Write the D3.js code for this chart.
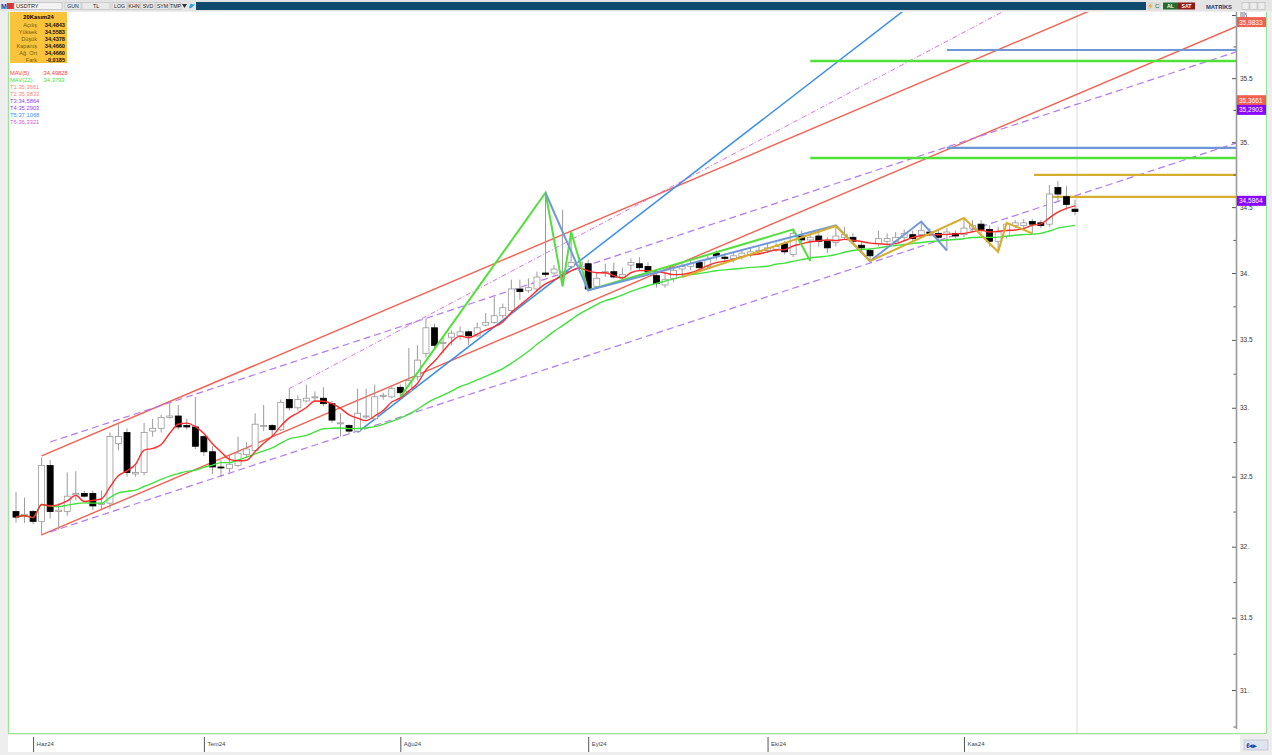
<!DOCTYPE html>
<html lang="tr">
<head>
<meta charset="UTF-8">
<title>USDTRY Günlük</title>
<style>
  body { margin: 0; background: #f0f0f0; font-family: "Liberation Sans", Arial, sans-serif; }
  svg { display: block; }
</style>
<script src="https://d3js.org/d3.v7.min.js"></script>
</head>
<body>
<div id="chart"></div>
<script>
// daily candles, 30 May 2024 .. 20 Nov 2024 (weekdays)
const opens = [32.25,32.22,32.25,32.18,32.58,32.25,32.25,32.37,32.38,32.38,32.30,32.31,32.74,32.82,32.52,32.53,32.83,32.85,32.93,32.94,
  32.87,32.86,32.79,32.68,32.57,32.56,32.58,32.66,32.69,32.87,32.87,32.84,33.06,33.00,33.05,33.08,33.07,33.03,32.89,32.87,
  32.83,32.94,32.92,33.09,33.08,33.15,33.12,33.23,33.40,33.59,33.48,33.52,33.53,33.56,33.53,33.61,33.63,33.68,33.72,33.88,
  33.87,33.88,34.00,34.00,34.01,34.05,34.06,34.07,33.90,34.00,34.01,33.97,34.06,34.07,34.05,33.98,33.91,33.96,34.03,34.05,
  34.08,34.05,34.15,34.12,34.11,34.12,34.14,34.16,34.17,34.18,34.22,34.14,34.28,34.25,34.28,34.24,34.23,34.27,34.27,34.21,
  34.17,34.22,34.24,34.24,34.27,34.29,34.29,34.31,34.30,34.29,34.30,34.29,34.34,34.37,34.33,34.24,34.28,34.36,34.36,34.39,
  34.38,34.37,34.65,34.58,34.4843];
const highs = [32.39,32.35,32.26,32.64,32.62,32.31,32.53,32.54,32.40,32.40,32.40,32.82,32.88,32.85,32.58,32.89,32.92,32.95,33.04,33.02,
  32.92,33.08,32.80,32.72,32.62,32.66,32.79,32.75,32.96,33.02,32.88,33.06,33.14,33.09,33.17,33.12,33.15,33.05,32.96,32.88,
  33.14,33.14,33.17,33.11,33.16,33.17,33.44,33.46,33.66,33.62,33.53,33.57,33.60,33.57,33.63,33.70,33.82,33.77,33.95,33.95,
  33.96,34.01,34.61,34.06,34.48,34.31,34.12,34.10,34.00,34.07,34.08,34.04,34.11,34.12,34.08,34.02,34.01,34.05,34.08,34.10,
  34.10,34.13,34.17,34.15,34.16,34.18,34.19,34.20,34.22,34.23,34.24,34.33,34.32,34.30,34.31,34.27,34.36,34.35,34.30,34.24,
  34.19,34.32,34.30,34.31,34.33,34.32,34.39,34.34,34.33,34.34,34.32,34.42,34.40,34.40,34.36,34.35,34.38,34.40,34.41,34.41,
  34.40,34.67,34.70,34.66,34.5583];
const lows = [32.17,32.17,32.16,32.08,32.20,32.12,32.22,32.33,32.35,32.26,32.26,32.27,32.69,32.50,32.50,32.51,32.79,32.82,32.92,32.84,
  32.84,32.70,32.65,32.52,32.50,32.53,32.57,32.64,32.68,32.83,32.79,32.83,32.98,32.98,33.04,33.04,33.01,32.89,32.79,32.81,
  32.82,32.92,32.91,33.06,33.07,33.08,33.11,33.20,33.37,33.44,33.40,33.46,33.50,33.46,33.52,33.60,33.62,33.66,33.71,33.80,
  33.85,33.86,33.97,33.98,33.90,34.03,34.04,33.87,33.88,33.97,33.96,33.95,34.02,34.02,33.98,33.89,33.89,33.93,33.97,34.02,
  34.02,34.03,34.10,34.08,34.08,34.10,34.12,34.14,34.15,34.16,34.14,34.12,34.22,34.09,34.20,34.15,34.20,34.25,34.22,34.15,
  34.09,34.20,34.22,34.22,34.25,34.24,34.27,34.28,34.25,34.17,34.26,34.27,34.32,34.30,34.20,34.16,34.26,34.34,34.34,34.30,
  34.34,34.35,34.55,34.48,34.4378];
const closes = [32.21,32.23,32.18,32.58,32.25,32.26,32.36,32.38,32.36,32.29,32.31,32.79,32.79,32.53,32.53,32.82,32.85,32.93,32.94,32.86,
  32.86,32.72,32.68,32.57,32.565,32.59,32.67,32.70,32.88,32.87,32.84,33.04,33.00,33.06,33.07,33.08,33.03,32.91,32.89,32.83,
  32.96,32.94,33.08,33.09,33.14,33.11,33.20,33.35,33.59,33.46,33.48,33.55,33.56,33.53,33.59,33.63,33.68,33.74,33.88,33.86,
  33.89,33.97,33.99,34.03,34.01,34.08,34.08,33.88,33.96,34.01,33.97,33.99,34.08,34.04,34.01,33.92,33.95,34.02,34.05,34.07,
  34.04,34.10,34.13,34.11,34.13,34.15,34.16,34.17,34.19,34.20,34.16,34.30,34.25,34.27,34.24,34.19,34.28,34.29,34.24,34.19,
  34.13,34.26,34.26,34.27,34.30,34.26,34.32,34.30,34.27,34.31,34.28,34.34,34.36,34.33,34.24,34.31,34.37,34.38,34.38,34.37,
  34.36,34.60,34.60,34.52,34.4660];

// month ticks (candle index) and labels
const monthIdx = [2, 22, 45, 67, 88, 111];
const monthLabels = ["Haz24", "Tem24", "Ağu24", "Eyl24", "Eki24", "Kas24"];

// trend lines: two anchors [index, price]; value at last bar is the second anchor
const trendNames = ["T1", "T2", "T3", "T4", "T5", "T6"];
const trendAnchors = [
  [[3, 32.084], [124, 35.3661]],
  [[3, 32.650], [124, 35.9833]],
  [[4, 32.105], [124, 34.5864]],
  [[4, 32.751], [124, 35.2903]],
  [[40, 32.82], [124, 37.1068]],
  [[32, 33.14], [124, 36.3321]]
];

// horizontal levels: [start index, price]
const greenLevels = [[93, 35.635], [93, 34.878]];
const blueLevels = [[109, 35.722], [109, 34.955]];
const goldLevels = [[119.2, 34.747], [120.7, 34.578]];

// zigzags [index, price]
const greenZig = [[45, 33.08], [62, 34.61], [64, 33.90], [65, 34.31], [67, 33.87], [91, 34.33], [93, 34.09]];
const blueZig = [[62, 34.61], [67, 33.87], [96, 34.36], [100, 34.09], [106, 34.39], [109, 34.17]];
const goldZig = [[78, 33.97], [96, 34.356], [100, 34.09], [111, 34.417], [115, 34.16], [116, 34.38], [119, 34.30]];

// info box
const infoTitle = "20Kasım24";
const infoLabels = ["Açılış", "Yüksek", "Düşük", "Kapanış", "Ağ. Ort", "Fark"];
const infoValues = ["34,4843", "34,5583", "34,4378", "34,4660", "34,4660", "-0,0185"];

const yMajor = [31, 31.5, 32, 32.5, 33, 33.5, 34, 34.5, 35, 35.5, 36];
const yMinor = [30.75, 31.25, 31.75, 32.25, 32.75, 33.25, 33.75, 34.25, 34.75, 35.25, 35.75];

const W = 1272, H = 755;
const plot = {left: 8, top: 12, right: 1236, bottom: 733};

const x = d3.scaleLinear().domain([0, 124]).range([16, 1075]);
const y = d3.scaleLog().domain([31, 36]).range([690, 15]);

const svg = d3.select("#chart").append("svg").attr("width", W).attr("height", H)
  .style("font-family", '"Liberation Sans", Arial, sans-serif');

svg.append("rect").attr("width", W).attr("height", H).attr("fill", "#eeeeee");
svg.append("rect").attr("x", 8).attr("y", 12).attr("width", 1258).attr("height", 721).attr("fill", "#fff");
svg.append("rect").attr("x", 8).attr("y", 735).attr("width", 1232).attr("height", 17).attr("fill", "#fff");

// green frame
const frame = svg.append("g").attr("stroke", "#9be39b").attr("stroke-width", 1.2);
frame.append("line").attr("x1", 8.5).attr("x2", 8.5).attr("y1", 12).attr("y2", 733.5);
frame.append("line").attr("x1", 8).attr("x2", 1266.5).attr("y1", 733.5).attr("y2", 733.5);
frame.append("line").attr("x1", 1266.5).attr("x2", 1266.5).attr("y1", 12).attr("y2", 733.5);

svg.append("defs").append("clipPath").attr("id", "clip")
  .append("rect").attr("x", plot.left + 1).attr("y", plot.top).attr("width", plot.right - plot.left - 1).attr("height", plot.bottom - plot.top);

const g = svg.append("g").attr("clip-path", "url(#clip)");

// last bar marker
g.append("line").attr("x1", x(124) + 2).attr("x2", x(124) + 2).attr("y1", plot.top).attr("y2", plot.bottom)
  .attr("stroke", "#dcdcdc").attr("stroke-width", 1);

const xEdge = x.invert(plot.right);

function extend(a, b) {
  const k = (Math.log(b[1]) - Math.log(a[1])) / (b[0] - a[0]);
  return [a, [xEdge, Math.exp(Math.log(a[1]) + k * (xEdge - a[0]))]];
}
const line = d3.line().x(d => x(d[0])).y(d => y(d[1]));

// trend line styles
const trendStyle = {
  T1: {color: "#f2604f", width: 1.4, dash: null},
  T2: {color: "#f2604f", width: 1.4, dash: null},
  T3: {color: "#b277f5", width: 1.2, dash: "7,4"},
  T4: {color: "#b277f5", width: 1.2, dash: "7,4"},
  T5: {color: "#3a8fe8", width: 1.5, dash: null},
  T6: {color: "#d464d4", width: 0.9, dash: "5,2,1,2"}
};
trendAnchors.forEach((a, k) => {
  const s = trendStyle[trendNames[k]];
  g.append("path").attr("d", line(extend(a[0], a[1])))
    .attr("fill", "none").attr("stroke", s.color).attr("stroke-width", s.width)
    .attr("stroke-dasharray", s.dash);
});

function levels(arr, color, width) {
  arr.forEach(l => {
    g.append("path").attr("d", line([[l[0], l[1]], [xEdge, l[1]]]))
      .attr("fill", "none").attr("stroke", color).attr("stroke-width", width);
  });
}
levels(greenLevels, "#52e03a", 2.5);
levels(blueLevels, "#6f97d8", 2.2);
levels(goldLevels, "#d6ad2c", 2.2);

// candles
const idx = d3.range(closes.length);
const bw = 6;
g.append("g").selectAll("line").data(idx).join("line")
  .attr("x1", i => x(i)).attr("x2", i => x(i))
  .attr("y1", i => y(highs[i])).attr("y2", i => y(lows[i]))
  .attr("stroke", "#9a9a9a").attr("stroke-width", 1);
g.append("g").selectAll("rect").data(idx).join("rect")
  .attr("x", i => x(i) - bw / 2)
  .attr("y", i => y(Math.max(opens[i], closes[i])))
  .attr("width", bw)
  .attr("height", i => Math.max(1, Math.abs(y(opens[i]) - y(closes[i]))))
  .attr("fill", i => closes[i] < opens[i] ? "#000" : "#fff")
  .attr("stroke", i => closes[i] < opens[i] ? "#000" : "#999")
  .attr("stroke-width", 0.8);

// moving averages of close
function sma(n) {
  return idx.map(i => [i, d3.mean(closes.slice(Math.max(0, i - n + 1), i + 1))]);
}
const smooth = d3.line().x(d => x(d[0])).y(d => y(d[1])).curve(d3.curveMonotoneX);
g.append("path").attr("d", smooth(sma(22))).attr("fill", "none").attr("stroke", "#3ee23a").attr("stroke-width", 1.4);
g.append("path").attr("d", smooth(sma(5))).attr("fill", "none").attr("stroke", "#ff2a2a").attr("stroke-width", 1.4);

// zigzags
[[greenZig, "#52e03a"], [blueZig, "#7099da"], [goldZig, "#d6ad2c"]].forEach(([z, c]) => {
  g.append("path").attr("d", line(z)).attr("fill", "none").attr("stroke", c)
    .attr("stroke-width", 2).attr("stroke-linejoin", "miter");
});

// y axis
const yAxis = svg.append("g").attr("transform", `translate(${plot.right},0)`)
  .call(d3.axisRight(y).tickValues(yMajor).tickSize(-4).tickPadding(4)
    .tickFormat(v => Number.isInteger(v) ? v + "." : String(v)));
yAxis.select(".domain").remove();
yAxis.selectAll("line").attr("stroke", "#555");
yAxis.selectAll("text").attr("font-size", 6.5).attr("fill", "#333");
const yMinorAxis = svg.append("g").attr("transform", `translate(${plot.right},0)`)
  .call(d3.axisRight(y).tickValues(yMinor).tickSize(-2.5).tickFormat(""));
yMinorAxis.select(".domain").remove();
yMinorAxis.selectAll("line").attr("stroke", "#555");
svg.append("line").attr("x1", plot.right + 0.5).attr("x2", plot.right + 0.5).attr("y1", plot.top).attr("y2", plot.bottom - 4)
  .attr("stroke", "#9a9a9a").attr("stroke-width", 1.6);

// right price tags
const tagColor = {T1: "#f2604f", T2: "#f2604f", T3: "#8a05fb", T4: "#8a05fb"};
["T2", "T1", "T4", "T3"].forEach(name => {
  const v = trendAnchors[trendNames.indexOf(name)][1][1];
  const ty = Math.max(y(v), plot.top + 5);
  svg.append("rect").attr("x", 1237).attr("y", ty).attr("width", 29).attr("height", 10).attr("fill", tagColor[name]);
  svg.append("text").attr("x", 1239).attr("y", ty + 7.5).attr("font-size", 6.5).attr("fill", "#fff")
    .text(d3.format(".4f")(v).replace(".", ","));
});

// x axis
const xAxis = svg.append("g").attr("transform", "translate(0,737)")
  .call(d3.axisBottom(x).tickValues(monthIdx).tickSize(15).tickFormat((d, i) => monthLabels[i]));
xAxis.select(".domain").remove();
xAxis.selectAll("line").attr("stroke", "#555");
xAxis.selectAll("text").attr("text-anchor", "start").attr("x", 3).attr("y", 5)
  .attr("font-size", 6).attr("fill", "#444");

// info box
const info = svg.append("g");
info.append("rect").attr("x", 10).attr("y", 12).attr("width", 57).attr("height", 51).attr("fill", "#f9c43b");
info.append("text").attr("x", 38.5).attr("y", 19).attr("text-anchor", "middle").attr("font-size", 5.8)
  .attr("font-weight", "bold").text(infoTitle);
infoLabels.forEach((l, k) => {
  info.append("text").attr("x", 37).attr("y", 26.5 + k * 7).attr("text-anchor", "end").attr("font-size", 5.6)
    .attr("fill", "#7a5a10").text(l);
  info.append("text").attr("x", 65).attr("y", 26.5 + k * 7).attr("text-anchor", "end").attr("font-size", 5.6)
    .attr("font-weight", "bold").attr("fill", "#111").text(infoValues[k]);
});

// legend
const ma5Last = d3.mean(closes.slice(-5)), ma22Last = d3.mean(closes.slice(-22));
const legend = [
  ["MAV(5)", ":" + d3.format(".5f")(34.49828).replace(".", ","), "#ff3b3b"],
  ["MAV(22)", ":" + "34,3793", "#44dd44"],
  ["T1:35,3661", "", "#f28a7c"],
  ["T2:35,9833", "", "#f28a7c"],
  ["T3:34,5864", "", "#9a3cf5"],
  ["T4:35,2903", "", "#9a3cf5"],
  ["T5:37,1068", "", "#3b8fe8"],
  ["T6:36,3321", "", "#cf57cf"]
];
legend.forEach((l, k) => {
  svg.append("text").attr("x", 10).attr("y", 74.5 + k * 7).attr("font-size", 5.8).attr("fill", l[2]).text(l[0]);
  if (l[1]) svg.append("text").attr("x", 42).attr("y", 74.5 + k * 7).attr("font-size", 5.8).attr("fill", l[2]).text(l[1]);
});

// toolbar
const tb = svg.append("g");
tb.append("rect").attr("x", 0).attr("y", 0).attr("width", W).attr("height", 11).attr("fill", "#e4e4e4");
tb.append("rect").attr("x", 196).attr("y", 2).attr("width", 950).attr("height", 8).attr("fill", "#0e4a6e");
tb.append("text").attr("x", 1).attr("y", 8.5).attr("font-size", 7).attr("font-weight", "bold").attr("fill", "#1a3a9a").text("M");
tb.append("rect").attr("x", 7).attr("y", 3).attr("width", 7).attr("height", 6).attr("fill", "#d33");
tb.append("rect").attr("x", 14).attr("y", 2.5).attr("width", 48).attr("height", 7).attr("fill", "#f2f2f2").attr("stroke", "#aaa").attr("stroke-width", 0.5);
tb.append("text").attr("x", 16).attr("y", 8.3).attr("font-size", 5.5).attr("fill", "#222").text("USDTRY");
const btns = [["GUN", 65, 16], ["TL", 82, 28], ["LOG", 112, 15], ["KHN", 128, 12], ["SVD", 141, 14], ["SYM", 156, 13], ["TMP", 170, 11]];
btns.forEach(b => {
  tb.append("rect").attr("x", b[1]).attr("y", 2.5).attr("width", b[2]).attr("height", 7).attr("fill", "#e9e9e9").attr("stroke", "#b5b5b5").attr("stroke-width", 0.5);
  tb.append("text").attr("x", b[1] + b[2] / 2).attr("y", 8.3).attr("text-anchor", "middle").attr("font-size", 5.2).attr("fill", "#222").text(b[0]);
});
tb.append("path").attr("d", "M182,4 L187,4 L184.5,8 Z").attr("fill", "#333");
tb.append("path").attr("d", "M189,8 Q192,9 195,4 L193,4.5 Q191,3 190,5 Q189.5,6 189,8 Z").attr("fill", "#2aa3ef");
tb.append("rect").attr("x", 1147).attr("y", 2.5).attr("width", 6).attr("height", 7).attr("fill", "#d8d8d8");
tb.append("path").attr("d", "M1151,3 L1148.5,6.5 L1150.5,6.5 L1149,9.5 L1152.5,5.5 L1150.5,5.5 Z").attr("fill", "#f0a020");
tb.append("rect").attr("x", 1154).attr("y", 2.5).attr("width", 7).attr("height", 7).attr("fill", "#d8d8d8");
tb.append("text").attr("x", 1155).attr("y", 8.3).attr("font-size", 6).attr("fill", "#2a8a4a").text("C");
tb.append("rect").attr("x", 1163).attr("y", 2.5).attr("width", 15).attr("height", 7).attr("fill", "#1f6e2c");
tb.append("text").attr("x", 1170.5).attr("y", 8.3).attr("text-anchor", "middle").attr("font-size", 5.2).attr("font-weight", "bold").attr("fill", "#fff").text("AL");
tb.append("rect").attr("x", 1178).attr("y", 2.5).attr("width", 17).attr("height", 7).attr("fill", "#8e1b1b");
tb.append("text").attr("x", 1186.5).attr("y", 8.3).attr("text-anchor", "middle").attr("font-size", 5.2).attr("font-weight", "bold").attr("fill", "#fff").text("SAT");
tb.append("text").attr("x", 1219).attr("y", 8.5).attr("text-anchor", "middle").attr("font-size", 5.8).attr("font-weight", "bold").attr("fill", "#2a3a6a").text("MATRİKS");
[1242, 1250, 1258].forEach(bx => {
  tb.append("rect").attr("x", bx).attr("y", 2.5).attr("width", 7).attr("height", 7).attr("fill", "#ececec").attr("stroke", "#aaa").attr("stroke-width", 0.5);
});
// corner icons
svg.append("rect").attr("x", 1244).attr("y", 740).attr("width", 24).attr("height", 10).attr("fill", "#dde3ef").attr("stroke", "#aab").attr("stroke-width", 0.5);
svg.append("text").attr("x", 1246).attr("y", 748).attr("font-size", 7).attr("font-weight", "bold").attr("fill", "#2244aa").text("ℓ◂▸");
svg.append("rect").attr("x", 1240).attr("y", 12).attr("width", 5).attr("height", 5).attr("fill", "#bbb");
</script>
</body>
</html>
